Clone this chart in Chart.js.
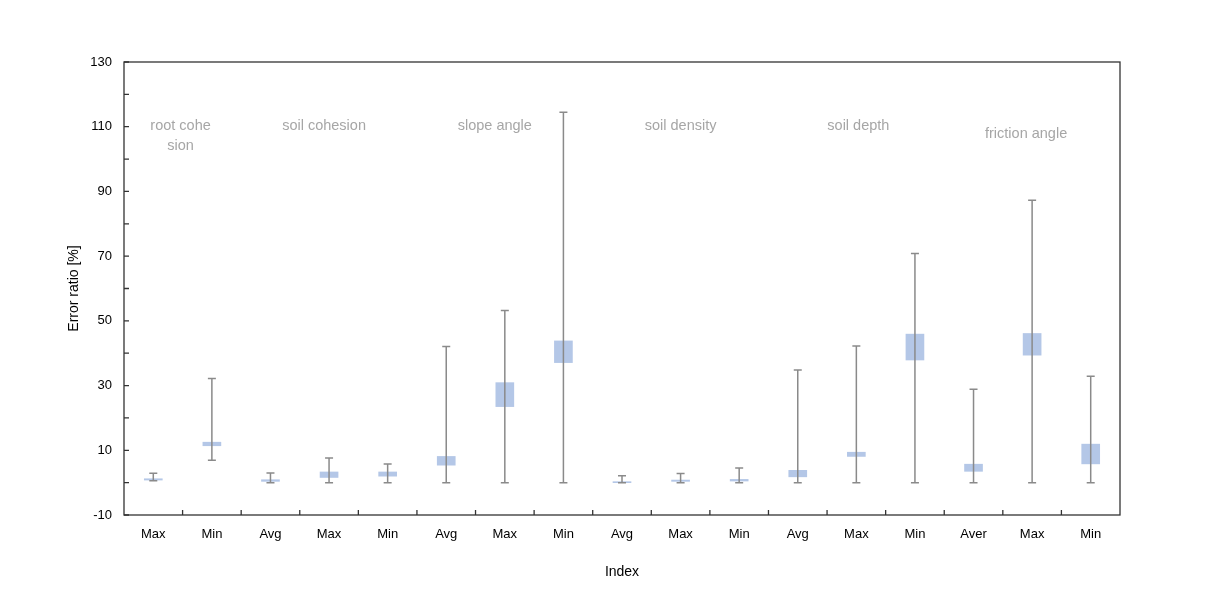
<!DOCTYPE html>
<html lang="en">
<head>
    <meta charset="UTF-8">
    <title>Error ratio</title>
    <script src="https://cdn.jsdelivr.net/npm/chart.js@4.4.1/dist/chart.umd.min.js"></script>
    <style>
        body { margin: 0; background: #fff; }
        .chart-box { width: 1205px; height: 599px; }
    </style>
</head>
<body>
    <div class="chart-box">
        <canvas id="errorChart"></canvas>
    </div>

    <script>
        const labels = ['Max', 'Min', 'Avg', 'Max', 'Min', 'Avg', 'Max', 'Min', 'Avg', 'Max', 'Min', 'Avg', 'Max', 'Min', 'Aver', 'Max', 'Min'];
        const whiskerLow = [0.6, 6.9, 0, 0, 0, 0, 0, 0, 0, 0, 0, 0, 0, 0, 0, 0, 0];
        const whiskerHigh = [2.9, 32.2, 3.0, 7.6, 5.8, 42.1, 53.2, 114.5, 2.1, 2.8, 4.5, 34.8, 42.2, 70.8, 28.9, 87.3, 32.9];
        const boxLow = [0.8, 11.4, 0.4, 1.6, 2.0, 5.4, 23.5, 37.1, 0.0, 0.4, 0.5, 1.8, 8.1, 37.9, 3.5, 39.4, 5.8];
        const boxHigh = [1.2, 12.5, 0.9, 3.3, 3.3, 8.1, 30.9, 43.8, 0.3, 0.8, 1.0, 3.8, 9.4, 45.9, 5.7, 46.1, 11.9];

        const groupNames = [['root cohe', 'sion'], ['soil cohesion'], ['slope angle'], ['soil density'], ['soil depth'], ['friction angle']];
        const groupStart = [0, 2, 5, 8, 11, 14];
        const groupEnd = [1, 4, 7, 10, 13, 16];

        const FONT = 'Arial, "Liberation Sans", sans-serif';

        // whiskers, inward tick marks, frame and group names
        const extras = {
            id: 'extras',
            afterDatasetsDraw(chart) {
                const ctx = chart.ctx;
                const x = chart.scales.x;
                const y = chart.scales.y;
                const area = chart.chartArea;

                ctx.save();
                ctx.strokeStyle = '#8a8a8a';
                ctx.lineWidth = 1.5;
                labels.forEach((_, i) => {
                    const px = x.getPixelForValue(i);
                    const top = y.getPixelForValue(whiskerHigh[i]);
                    const bot = y.getPixelForValue(whiskerLow[i]);
                    ctx.beginPath();
                    ctx.moveTo(px, top);
                    ctx.lineTo(px, bot);
                    ctx.moveTo(px - 4, top);
                    ctx.lineTo(px + 4, top);
                    ctx.moveTo(px - 4, bot);
                    ctx.lineTo(px + 4, bot);
                    ctx.stroke();
                });

                ctx.strokeStyle = '#333';
                ctx.lineWidth = 1.3;
                ctx.beginPath();
                y.ticks.forEach((t, i) => {
                    const py = y.getPixelForTick(i);
                    ctx.moveTo(area.left, py);
                    ctx.lineTo(area.left + 5, py);
                });
                for (let i = 1; i < labels.length; i++) {
                    const px = (x.getPixelForValue(i - 1) + x.getPixelForValue(i)) / 2;
                    ctx.moveTo(px, area.bottom);
                    ctx.lineTo(px, area.bottom - 5);
                }
                ctx.stroke();
                ctx.strokeRect(area.left, area.top, area.right - area.left, area.bottom - area.top);

                ctx.fillStyle = '#a6a6a6';
                ctx.font = '14.5px ' + FONT;
                ctx.textAlign = 'center';
                ctx.textBaseline = 'middle';
                const nudge = [-2, -5, -10, 0, 2, -6];
                groupNames.forEach((lines, g) => {
                    const px = (x.getPixelForValue(groupStart[g]) + x.getPixelForValue(groupEnd[g])) / 2;
                    const shift = g === 5 ? 8 : 0;
                    lines.forEach((line, k) => {
                        ctx.fillText(line, px + nudge[g], area.top + 64 + shift + k * 20);
                    });
                });
                ctx.restore();
            }
        };

        new Chart(document.getElementById('errorChart'), {
            type: 'bar',
            data: {
                labels: labels,
                datasets: [{
                    data: boxLow.map((v, i) => [v, boxHigh[i]]),
                    backgroundColor: 'rgba(180, 199, 231, 1)',
                    borderWidth: 0,
                    barThickness: 18
                }]
            },
            options: {
                responsive: true,
                maintainAspectRatio: false,
                animation: false,
                layout: { padding: { left: 62, right: 85, top: 62, bottom: 14 } },
                plugins: {
                    legend: { display: false },
                    tooltip: { enabled: false }
                },
                scales: {
                    x: {
                        grid: { display: false },
                        border: { display: false },
                        ticks: { color: '#000', padding: 4, font: { family: FONT, size: 13 }, maxRotation: 0 },
                        title: { display: true, text: 'Index', color: '#000', font: { family: FONT, size: 14 } },
                        afterFit(scale) { scale.height = 70; }
                    },
                    y: {
                        min: -10,
                        max: 130,
                        grid: { display: false },
                        border: { display: false },
                        ticks: {
                            stepSize: 10,
                            autoSkip: false,
                            color: '#000',
                            padding: 4,
                            font: { family: FONT, size: 13 },
                            callback: (v) => ((v + 10) % 20 === 0 ? v : '')
                        },
                        title: { display: true, text: 'Error ratio [%]', color: '#000', font: { family: FONT, size: 14 } },
                        afterFit(scale) { scale.width = 62; }
                    }
                }
            },
            plugins: [extras]
        });
    </script>
</body>
</html>
